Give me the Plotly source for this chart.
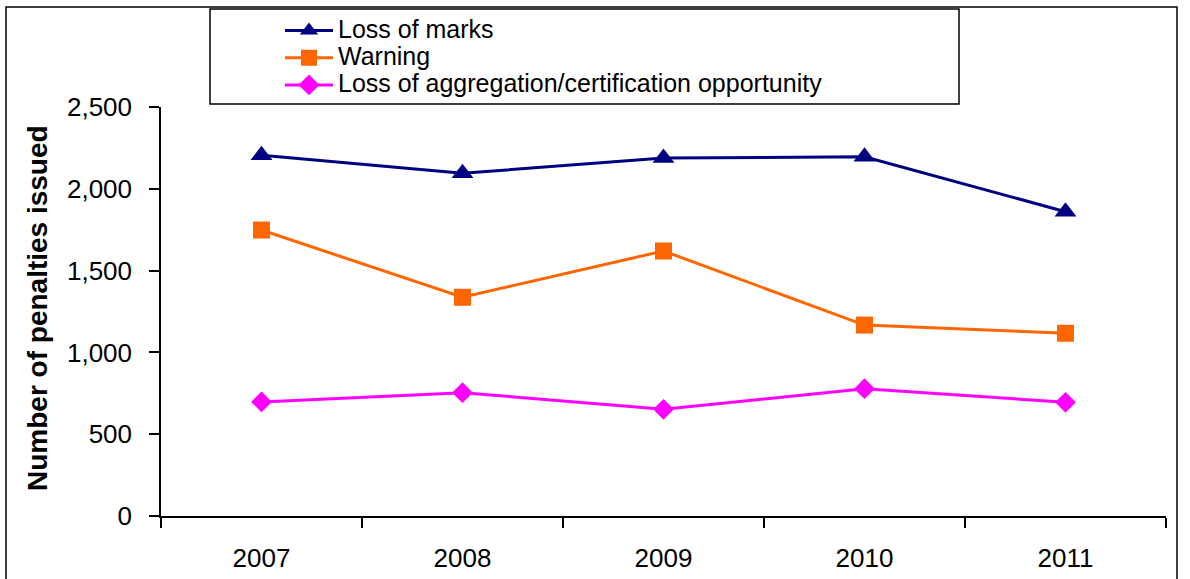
import plotly.graph_objects as go

years = ["2007", "2008", "2009", "2010", "2011"]
loss_of_marks = [2205, 2095, 2188, 2196, 1860]
warning = [1748, 1337, 1620, 1167, 1117]
loss_of_aggregation = [697, 754, 652, 778, 695]
series_names = ["Loss of marks", "Warning", "Loss of aggregation/certification opportunity"]
y_ticks = [0, 500, 1000, 1500, 2000, 2500]

W, H = 1190, 579
L, R, T, B = 161, 24, 107, 63
PW, PH = W - L - R, H - T - B

def px_x(p):
    return (p - L) / PW

def px_y(p):
    return (H - B - p) / PH

FONT = "Liberation Sans, Arial, sans-serif"
LEGEND_TEXT_PX = 25

def legend_label(s):
    return f"<span style='font-size:{LEGEND_TEXT_PX}px'>{s}</span>"

fig = go.Figure()
fig.add_trace(go.Scatter(x=years, y=loss_of_marks, name=legend_label(series_names[0]), mode="lines+markers",
                         line=dict(color="#000080", width=3),
                         marker=dict(symbol="triangle-up", size=19, color="#000080")))
fig.add_trace(go.Scatter(x=years, y=warning, name=legend_label(series_names[1]), mode="lines+markers",
                         line=dict(color="#FF6600", width=3),
                         marker=dict(symbol="square", size=17, color="#FF6600")))
fig.add_trace(go.Scatter(x=years, y=loss_of_aggregation, name=legend_label(series_names[2]), mode="lines+markers",
                         line=dict(color="#FF00FF", width=3),
                         marker=dict(symbol="diamond", size=16, color="#FF00FF")))

fig.update_layout(
    width=W, height=H,
    margin=dict(l=L, r=R, t=T, b=B, autoexpand=False),
    paper_bgcolor="white", plot_bgcolor="white",
    font=dict(family=FONT, color="black", size=26),
    showlegend=True,
    legend=dict(x=px_x(280), y=px_y(12), xanchor="left", yanchor="top",
                bgcolor="rgba(0,0,0,0)", borderwidth=0, itemwidth=48,
                font=dict(family=FONT, size=18.6, color="black"),
                tracegroupgap=0),
    xaxis=dict(type="category", range=[-0.5, 4.5], showline=True, linecolor="black", linewidth=1.5,
               ticks="outside", tickson="boundaries", ticklen=10, tickwidth=1.5, tickcolor="black",
               showgrid=False, zeroline=False, tickfont=dict(size=26), ticklabelstandoff=18),
    yaxis=dict(range=[0, 2500], tickvals=y_ticks, tickformat=",", showline=True, linecolor="black",
               linewidth=1.5, ticks="outside", ticklen=10, tickwidth=1.5, tickcolor="black",
               showgrid=False, zeroline=False, tickfont=dict(size=26), ticklabelstandoff=12),
    shapes=[
        dict(type="rect", xref="paper", yref="paper", x0=px_x(6), x1=px_x(1177), y0=px_y(595), y1=px_y(7),
             line=dict(color="black", width=1.5), fillcolor="rgba(0,0,0,0)", layer="below"),
        dict(type="rect", xref="paper", yref="paper", x0=px_x(210), x1=px_x(959), y0=px_y(104), y1=px_y(9),
             line=dict(color="black", width=1.5), fillcolor="rgba(0,0,0,0)", layer="below"),
    ],
    annotations=[
        dict(text="<b>Number of penalties issued</b>", xref="paper", yref="paper",
             x=px_x(37), y=px_y(308), xanchor="center", yanchor="middle", textangle=-90,
             showarrow=False, font=dict(family=FONT, size=28, color="black")),
    ],
)

fig.write_html(
    "out.html",
    config={"displayModeBar": False},
    post_script=(
        "document.body.style.margin='0';document.body.style.padding='0';"
        "document.documentElement.style.overflow='hidden';document.body.style.overflow='hidden';"
    ),
)
